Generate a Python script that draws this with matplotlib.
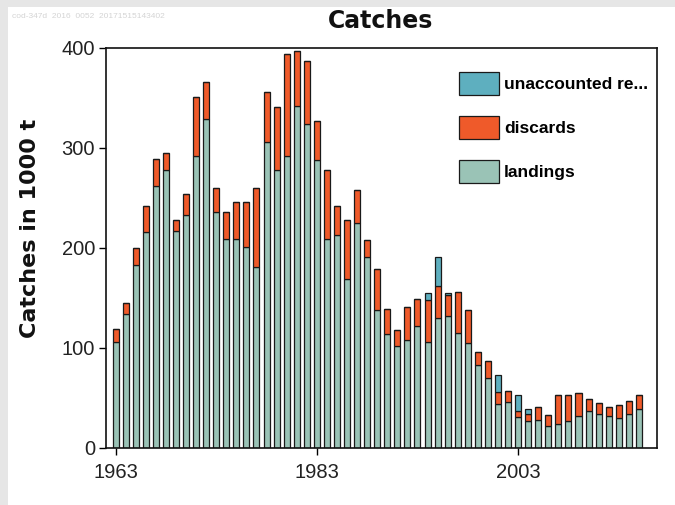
import matplotlib
matplotlib.use("Agg")
import matplotlib.pyplot as plt
from matplotlib.patches import Rectangle
from matplotlib import font_manager
import numpy as np

years = list(range(1963, 2016))
landings = [106, 134, 183, 216, 262, 278, 217, 233, 292, 329,
            236, 209, 209, 201, 181, 306, 278, 292, 342, 324,
            288, 209, 213, 169, 225, 191, 138, 114, 102, 108,
            122, 106, 130, 132, 115, 105, 83, 70, 44, 46,
            30.5, 26.5, 28, 22, 24, 26.5, 32, 37, 34, 32,
            30, 34, 38.5]
discards = [12.5, 11, 17, 26, 27, 17, 11, 21, 59, 37,
            24, 27, 37, 45, 79, 50, 63, 102, 55, 63,
            39, 69, 29, 59, 33, 17, 41, 25, 16, 33,
            27, 42, 32, 21, 41, 33, 12.5, 16.5, 12, 10.5,
            6.5, 7.5, 12.5, 10.5, 29, 26.5, 23, 11.5, 11, 8.5,
            12.5, 12.5, 14.5]
unaccounted = [0] * 31 + [7, 29, 2, 0, 0, 0, 0, 17, 0, 16, 4.5] + [0] * 11

series_names = ["unaccounted re...", "discards", "landings"]
xtick_years = [1963, 1983, 2003]
yticks = [0, 100, 200, 300, 400]

c_land = "#9ac3b6"
c_disc = "#ef5a2a"
c_unac = "#5eafbf"

available = {f.name for f in font_manager.fontManager.ttflist}
narrow = "Liberation Sans Narrow" if "Liberation Sans Narrow" in available else "Liberation Sans"

fig = plt.figure(figsize=(6.75, 5.05), dpi=100, facecolor="#e6e6e6")
fig.patches.append(Rectangle((8 / 675, 0), 1, 1 - 7 / 505, transform=fig.transFigure,
                             facecolor="white", edgecolor="none", zorder=-10))

ax = fig.add_axes([106 / 675, 1 - 447.5 / 505, (657 - 106) / 675, (447.5 - 47.5) / 505])
ax.set_facecolor("white")
ax.set_zorder(1)

x = np.array(years)
land = np.array(landings, float)
disc = np.array(discards, float)
unac = np.array(unaccounted, float)
w = 0.6
ek = dict(edgecolor="#1a1a1a", linewidth=0.9)
b_land = ax.bar(x, land, w, color=c_land, **ek)
b_disc = ax.bar(x, disc, w, bottom=land, color=c_disc, **ek)
b_unac = ax.bar(x, unac, w, bottom=land + disc, color=c_unac, **ek)

ax.set_xlim(1962.05, 2016.8)
ax.set_ylim(0, 400)
ax.set_xticks(xtick_years)
ax.set_xticklabels([str(v) for v in xtick_years])
ax.set_yticks(yticks)
ax.set_yticklabels([str(v) for v in yticks])
for lab in ax.get_xticklabels() + ax.get_yticklabels():
    lab.set_fontfamily(narrow)
    lab.set_fontsize(14.5)
    lab.set_color("#222222")
ax.tick_params(axis="both", direction="out", length=5, width=1, color="black", pad=3)
ax.tick_params(axis="x", pad=6)
for s in ax.spines.values():
    s.set_linewidth(1.2)
    s.set_color("#111111")

fig.text(381 / 675, 1 - 21 / 505, "Catches", fontsize=17, fontweight="bold",
         family="DejaVu Sans", ha="center", va="center", color="#111111")

fig.text(30 / 675, 1 - 228 / 505, "Catches in 1000 t", rotation=90, fontsize=16,
         fontweight="bold", family="DejaVu Sans", ha="center", va="center", color="#111111")

fig.text(12 / 675, 1 - 17 / 505, "cod-347d  2016  0052  20171515143402", fontsize=6,
         color="#d4d4d4", family=narrow, ha="left", va="center")

leg = ax.legend([b_unac, b_disc, b_land], series_names, loc="upper left",
                bbox_to_anchor=(459 / 675, 1 - 72 / 505), bbox_transform=fig.transFigure,
                frameon=False, borderpad=0, borderaxespad=0,
                handlelength=2.3, handleheight=1.65, handletextpad=0.3, labelspacing=1.22,
                prop={"family": narrow, "size": 12.5, "weight": "bold"})

fig.savefig("out.png", dpi=100, facecolor=fig.get_facecolor())
